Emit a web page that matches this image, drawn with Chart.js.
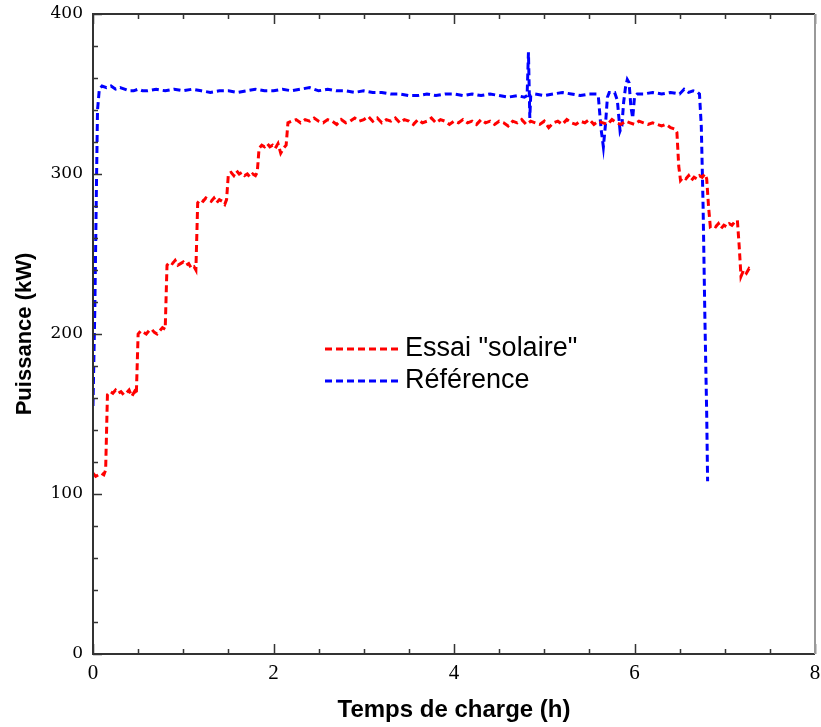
<!DOCTYPE html>
<html>
<head>
<meta charset="utf-8">
<script src="https://cdn.jsdelivr.net/npm/chart.js@4.4.0/dist/chart.umd.min.js"></script>
<style>
  body { margin: 0; background: #fff; }
  canvas { display: block; }
</style>
</head>
<body>
<canvas id="chart1" width="821" height="727"></canvas>
<script>
// Essai "solaire" (rouge)
const essai_temps = [
    0, 0.03, 0.06, 0.09, 0.12, 0.14, 0.16, 0.19, 0.22, 0.25, 0.28, 0.31, 0.34, 0.37, 0.40, 0.43, 0.46, 0.48,
    0.50, 0.53, 0.56, 0.59, 0.62, 0.65, 0.68, 0.71, 0.74, 0.77, 0.80,
    0.82, 0.85, 0.88, 0.91, 0.94, 0.97, 1.00, 1.03, 1.06, 1.09, 1.12, 1.14,
    1.16, 1.19, 1.22, 1.25, 1.28, 1.31, 1.34, 1.37, 1.40, 1.43, 1.46, 1.48,
    1.50, 1.53, 1.56, 1.59, 1.62, 1.65, 1.68, 1.71, 1.74, 1.77, 1.80, 1.82,
    1.84, 1.87, 1.90, 1.93, 1.96, 1.99, 2.02, 2.05, 2.08, 2.11, 2.14,
    2.16, 2.20, 2.25, 2.30, 2.35, 2.40, 2.45, 2.50, 2.55, 2.60, 2.65, 2.70, 2.75, 2.80, 2.85, 2.90, 2.95,
    3.00, 3.05, 3.10, 3.15, 3.20, 3.25, 3.30, 3.35, 3.40, 3.45, 3.50, 3.55, 3.60, 3.65, 3.70, 3.75, 3.80, 3.85, 3.90, 3.95,
    4.00, 4.05, 4.10, 4.15, 4.20, 4.25, 4.30, 4.35, 4.40, 4.45, 4.50, 4.55, 4.60, 4.65, 4.70, 4.75, 4.80, 4.85, 4.90, 4.95,
    5.00, 5.05, 5.10, 5.15, 5.20, 5.25, 5.30, 5.35, 5.40, 5.45, 5.50, 5.55, 5.60, 5.65, 5.70, 5.75, 5.80, 5.85, 5.90, 5.95,
    6.00, 6.05, 6.10, 6.15, 6.20, 6.25, 6.30, 6.35, 6.40, 6.45, 6.47,
    6.49, 6.51, 6.54, 6.57, 6.60, 6.63, 6.66, 6.69, 6.72, 6.75, 6.78, 6.80,
    6.82, 6.84, 6.87, 6.90, 6.93, 6.96, 6.99, 7.02, 7.05, 7.08, 7.11, 7.14,
    7.16, 7.18, 7.21, 7.24, 7.27, 7.30
];
const essai_puissance = [
    113, 111, 112, 113, 112, 115, 162, 164, 163, 165, 163, 164, 162, 163, 165, 161, 164, 162,
    200, 202, 201, 200, 202, 203, 201, 200, 202, 204, 203,
    243, 245, 244, 246, 243, 244, 245, 243, 244, 241, 242, 240,
    282, 284, 283, 285, 284, 283, 285, 282, 284, 283, 281, 284,
    300, 301, 299, 302, 300, 301, 299, 300, 298, 300, 299, 301,
    316, 318, 317, 319, 317, 318, 316, 319, 313, 316, 318,
    332, 333, 334, 332, 334, 333, 335, 333, 332, 334, 333, 331, 334, 332, 333, 335, 333,
    334, 336, 333, 335, 332, 334, 333, 335, 332, 334, 333, 331, 334, 332, 333, 335, 332, 334, 333, 331,
    333, 332, 334, 332, 333, 331, 334, 332, 333, 331, 333, 332, 330, 333, 332, 334, 331, 333, 332, 331,
    333, 329, 332, 333, 331, 334, 332, 331, 333, 332, 334, 331, 333, 332, 331, 334, 332, 331, 333, 332,
    331, 333, 332, 331, 332, 331, 330, 331, 329, 328, 326,
    305, 296, 298, 297, 299, 296, 298, 297, 299, 298, 300, 297,
    280, 267, 268, 267, 269, 266, 268, 267, 269, 268, 270, 271,
    255, 236, 240, 238, 241, 240
];

// Référence (bleu)
const ref_temps = [
    0, 0.02, 0.04, 0.05, 0.07, 0.10, 0.15, 0.20, 0.25, 0.30, 0.35, 0.40, 0.45, 0.50, 0.55, 0.60, 0.70, 0.80, 0.90,
    1.00, 1.10, 1.20, 1.30, 1.40, 1.50, 1.60, 1.70, 1.80, 1.90, 2.00, 2.10, 2.20, 2.30, 2.40, 2.45, 2.50, 2.60, 2.70, 2.80, 2.90,
    3.00, 3.10, 3.20, 3.30, 3.40, 3.50, 3.60, 3.70, 3.80, 3.90, 4.00, 4.10, 4.20, 4.30, 4.40, 4.50, 4.60, 4.70, 4.78,
    4.81, 4.825, 4.83, 4.835, 4.84, 4.85, 4.90, 5.00, 5.10, 5.20, 5.30, 5.40, 5.50, 5.58,
    5.60, 5.63, 5.655, 5.68, 5.70, 5.72, 5.78, 5.81, 5.84, 5.86, 5.88, 5.90, 5.92, 5.94, 5.96, 5.98,
    6.00, 6.03, 6.10, 6.20, 6.30, 6.40, 6.50, 6.55, 6.60, 6.65, 6.70, 6.72, 6.74, 6.76, 6.78, 6.80, 6.81
];
const ref_puissance = [
    155, 215, 300, 340, 353, 355, 354, 355, 353, 354, 353, 352, 352, 353, 352, 352, 353, 352, 353,
    352, 353, 352, 351, 352, 352, 351, 352, 353, 352, 352, 353, 352, 353, 354, 353, 352, 353, 352, 352, 351,
    352, 351, 351, 350, 350, 349, 349, 350, 349, 350, 350, 349, 350, 349, 350, 349, 348, 349, 348,
    349, 376, 362, 349, 335, 349, 350, 349, 350, 351, 350, 349, 350, 350,
    348, 328, 317, 332, 348, 351, 351, 346, 327, 330, 345, 354, 359, 357, 342, 335,
    348, 350, 350, 351, 350, 351, 350, 353, 351, 352, 351, 350, 330, 280, 210, 150, 108
];

const x_ticks_max = 8;
const y_ticks_max = 400;

function montarPontos(temps, valores) {
    const pontos = [];
    for (let i = 0; i < temps.length; i++) {
        pontos.push({ x: temps[i], y: valores[i] });
    }
    return pontos;
}

function semPadding(scale) {
    scale.paddingTop = 0;
    scale.paddingBottom = 0;
    scale.paddingLeft = 0;
    scale.paddingRight = 0;
}

// cadre + graduations intérieures + légende dans le graphe
const cadrePlugin = {
    id: 'cadre',
    afterDraw(chart) {
        const ctx = chart.ctx;
        const a = chart.chartArea;
        const sx = chart.scales.x;
        const sy = chart.scales.y;
        ctx.save();

        ctx.strokeStyle = '#333';
        ctx.lineWidth = 1.5;
        for (let v = 0; v <= x_ticks_max + 0.001; v += 0.5) {
            const px = Math.round(sx.getPixelForValue(v)) + 0.5;
            const len = (v % 2 === 0) ? 10 : 5;
            ctx.beginPath();
            ctx.moveTo(px, a.bottom); ctx.lineTo(px, a.bottom - len);
            ctx.moveTo(px, a.top); ctx.lineTo(px, a.top + len);
            ctx.stroke();
        }
        for (let v = 0; v <= y_ticks_max; v += 20) {
            const py = Math.round(sy.getPixelForValue(v)) + 0.5;
            const len = (v % 100 === 0) ? 9 : 5;
            ctx.beginPath();
            ctx.moveTo(a.left, py); ctx.lineTo(a.left + len, py);
            ctx.stroke();
        }

        // axes
        ctx.lineWidth = 2;
        ctx.strokeStyle = '#333';
        ctx.beginPath();
        ctx.moveTo(a.right, a.top); ctx.lineTo(a.left, a.top);
        ctx.lineTo(a.left, a.bottom); ctx.lineTo(a.right, a.bottom);
        ctx.stroke();
        ctx.strokeStyle = '#999';
        ctx.beginPath();
        ctx.moveTo(a.right, a.top); ctx.lineTo(a.right, a.bottom);
        ctx.stroke();

        // légende
        ctx.font = '27px "Liberation Sans", Arial, sans-serif';
        ctx.textBaseline = 'middle';
        ctx.fillStyle = '#000';
        chart.data.datasets.forEach(function (ds, i) {
            const yLeg = 349 + i * 32;
            ctx.strokeStyle = ds.borderColor;
            ctx.lineWidth = 3;
            ctx.setLineDash([7, 4]);
            ctx.beginPath();
            ctx.moveTo(325, yLeg); ctx.lineTo(398, yLeg);
            ctx.stroke();
            ctx.setLineDash([]);
            ctx.fillText(ds.label, 405, yLeg);
        });
        ctx.restore();
    }
};

new Chart(document.getElementById("chart1"), {
    type: 'line',
    data: {
        datasets: [
            {
                label: 'Essai "solaire"',
                data: montarPontos(essai_temps, essai_puissance),
                borderColor: '#ff0000',
                borderWidth: 3,
                borderDash: [7, 4],
                pointRadius: 0,
                fill: false,
                tension: 0
            },
            {
                label: 'Référence',
                data: montarPontos(ref_temps, ref_puissance),
                borderColor: '#0000ff',
                borderWidth: 3,
                borderDash: [7, 4],
                pointRadius: 0,
                fill: false,
                tension: 0
            }
        ]
    },
    options: {
        responsive: false,
        animation: false,
        layout: { padding: { top: 14, right: 6, left: 0, bottom: 0 } },
        plugins: {
            legend: { display: false },
            tooltip: { enabled: false }
        },
        scales: {
            x: {
                type: 'linear',
                min: 0,
                max: x_ticks_max,
                afterFit: function (scale) { scale.height = 73; semPadding(scale); },
                grid: { display: false, drawTicks: false },
                border: { display: false },
                ticks: {
                    stepSize: 2,
                    padding: 7,
                    color: '#000',
                    font: { family: '"Liberation Serif", "Times New Roman", serif', size: 21 }
                },
                title: {
                    display: true,
                    text: 'Temps de charge (h)',
                    color: '#000',
                    padding: { top: 0, bottom: 2 },
                    font: { family: '"Liberation Sans", Arial, sans-serif', size: 24, weight: 'bold' }
                }
            },
            y: {
                min: 0,
                max: y_ticks_max,
                afterFit: function (scale) { scale.width = 93; semPadding(scale); },
                grid: { display: false, drawTicks: false },
                border: { display: false },
                ticks: {
                    stepSize: 100,
                    padding: 10,
                    color: '#000',
                    font: { family: '"DejaVu Serif", serif', size: 17 }
                },
                title: {
                    display: true,
                    text: 'Puissance (kW)',
                    color: '#000',
                    padding: { top: 12, bottom: 0 },
                    font: { family: '"Liberation Sans", Arial, sans-serif', size: 22, weight: 'bold' }
                }
            }
        }
    },
    plugins: [cadrePlugin]
});
</script>
</body>
</html>
